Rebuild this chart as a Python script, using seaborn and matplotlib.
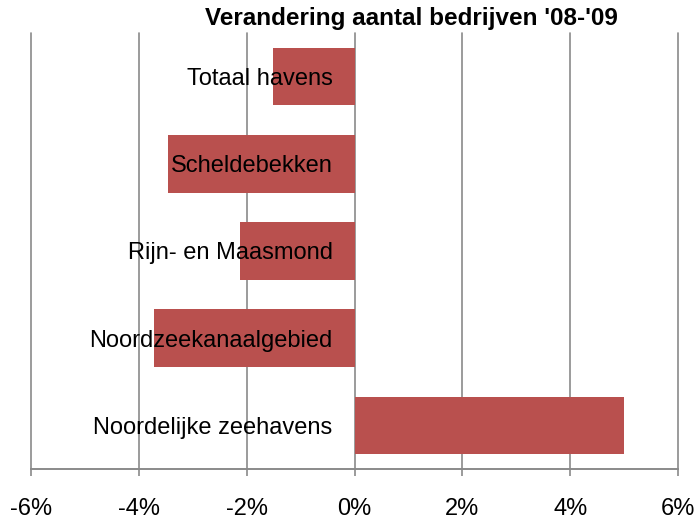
import matplotlib
matplotlib.use("Agg")
import matplotlib.pyplot as plt
import matplotlib.transforms as mtransforms
import seaborn as sns
import pandas as pd
from matplotlib.ticker import FuncFormatter

# data
regions = [
    "Totaal havens",
    "Scheldebekken",
    "Rijn- en Maasmond",
    "Noordzeekanaalgebied",
    "Noordelijke zeehavens",
]
change_pct = [-1.52, -3.45, -2.12, -3.72, 5.0]
x_ticks = [-6, -4, -2, 0, 2, 4, 6]

df = pd.DataFrame({"regio": regions, "verandering": change_pct})

sns.set_style("white")
plt.rcParams["font.family"] = ["Liberation Sans", "DejaVu Sans"]

fig = plt.figure(figsize=(6.98, 5.21), dpi=100)
ax = fig.add_axes([31 / 698, 1 - 469 / 521, 647 / 698, 436 / 521])

sns.barplot(data=df, x="verandering", y="regio", color="#B9504E",
            saturation=1, width=0.66, linewidth=0, ax=ax, zorder=3)

ax.set_xlim(-6, 6)
ax.set_ylim(4.5, -0.5)
ax.set_xticks(x_ticks)
ax.xaxis.set_major_formatter(FuncFormatter(lambda v, _: f"{v:.0f}%"))
ax.grid(axis="x", color="#8a8a8a", lw=1.2, zorder=0)
ax.set_axisbelow(True)
for gl in ax.get_xgridlines():
    gl.set_clip_on(False)

for side in ["left", "right", "top"]:
    ax.spines[side].set_visible(False)
ax.spines["bottom"].set_color("#8a8a8a")
ax.spines["bottom"].set_linewidth(1.4)
ax.set_yticks([])
ax.tick_params(axis="x", length=5, width=1.2, color="#8a8a8a",
               labelsize=17, labelcolor="black", pad=16, bottom=True)
ax.set_xlabel("")
ax.set_ylabel("")

# category labels sit just left of the zero line, on top of the bars
lbl_trans = mtransforms.offset_copy(ax.transData, fig=fig, x=-22, y=0, units="dots")
for i, name in enumerate(regions):
    ax.text(0, i, name, transform=lbl_trans, ha="right", va="center_baseline",
            fontsize=17, color="black", zorder=5)

fig.text(411 / 698, 1 - 19 / 521, "Verandering aantal bedrijven '08-'09",
         ha="center", va="center", fontsize=17.5, fontweight="bold",
         color="black")

fig.savefig("out.png", dpi=100)
